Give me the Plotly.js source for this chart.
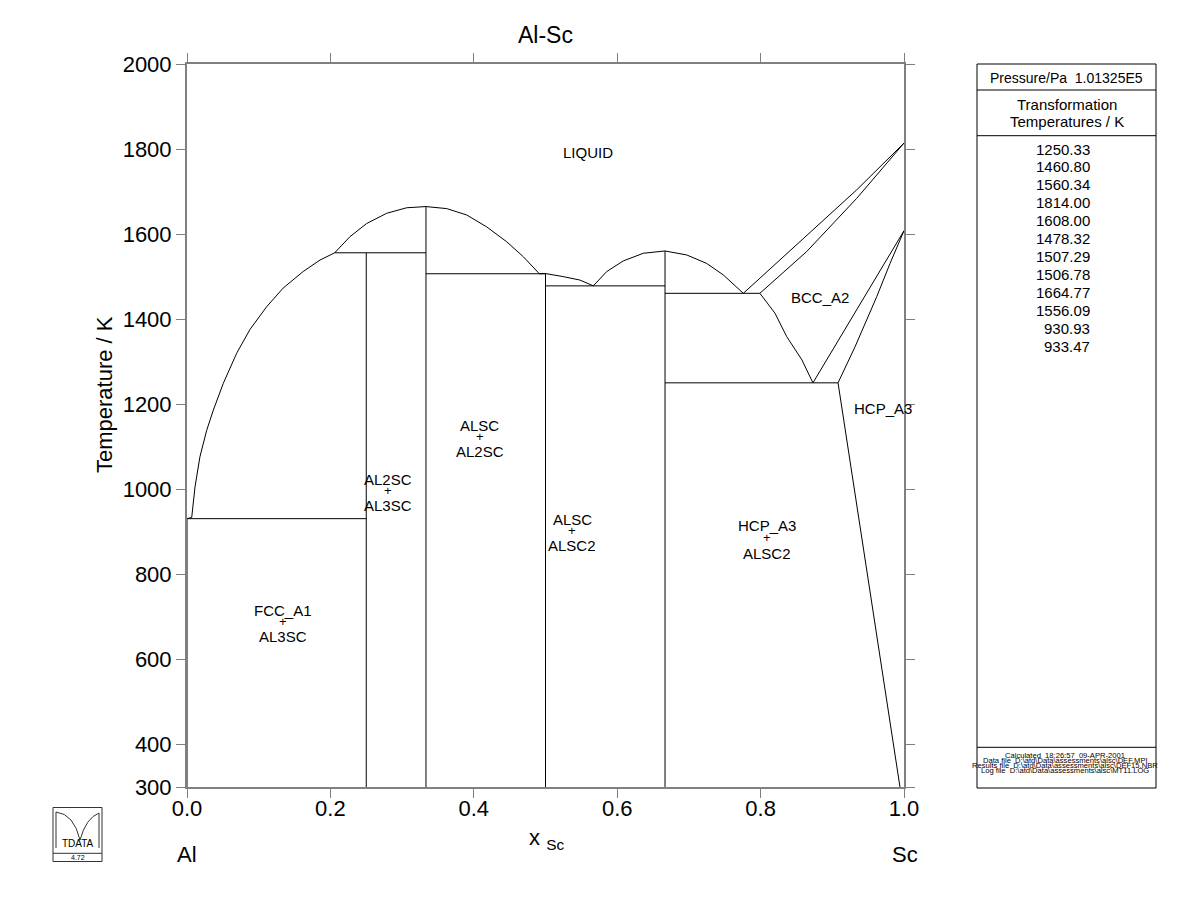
<!DOCTYPE html>
<html>
<head>
<meta charset="utf-8">
<script src="https://cdn.plot.ly/plotly-3.0.1.min.js"></script>
<style>html,body{margin:0;padding:0;background:#fff;}#plot{width:1200px;height:923px;}</style>
</head>
<body>
<div id="plot"></div>
<script>
// ---------------- data ----------------
const tMin = 300;
// Al-rich liquidus (FCC/AL3SC side)
const liqAlX = [0.0008, 0.0066, 0.0112, 0.0181, 0.0275, 0.0367, 0.0506, 0.0693, 0.0879, 0.111, 0.134, 0.162, 0.1855, 0.206];
const liqAlT = [930.93, 934, 1006, 1077, 1139, 1186, 1249, 1320, 1376, 1429, 1473, 1512, 1539, 1556.09];
// FCC solvus / solidus at pure Al
const fccX = [0.0, 0.0003, 0.0008, 0.0];
const fccT = [300, 700, 930.93, 933.47];
// liquidus over AL2SC
const liqAl2ScX = [0.206, 0.2273, 0.2506, 0.2785, 0.3064, 0.3333, 0.3622, 0.3901, 0.418, 0.4459, 0.469, 0.4914];
const liqAl2ScT = [1556.09, 1594, 1625, 1649, 1662, 1664.77, 1660, 1645, 1617, 1582, 1547, 1506.78];
// liquidus over ALSC
const liqAlScX = [0.4914, 0.5, 0.525, 0.548, 0.5667];
const liqAlScT = [1506.78, 1507.29, 1500, 1492, 1478.32];
// liquidus over ALSC2
const liqAlSc2X = [0.5667, 0.5854, 0.6085, 0.6364, 0.6667, 0.697, 0.7249, 0.748, 0.7759];
const liqAlSc2T = [1478.32, 1512, 1537, 1555, 1560.34, 1551, 1531, 1504, 1460.8];
// BCC liquidus and solidus
const liqBccX = [0.7759, 0.8643, 0.934, 1.0];
const liqBccT = [1460.8, 1596, 1704, 1814.0];
const solBccX = [0.799, 0.8643, 0.934, 1.0];
const solBccT = [1460.8, 1559, 1684, 1814.0];
// BCC solvus towards ALSC2
const bccSolvX = [0.799, 0.8201, 0.8364, 0.8577, 0.873];
const bccSolvT = [1460.8, 1414, 1359, 1304, 1250.33];
// BCC / HCP two-phase boundaries
const bccHcpX = [0.873, 1.0];
const bccHcpT = [1250.33, 1608.0];
const hcpBccX = [0.908, 0.9317, 0.962, 0.9805, 1.0];
const hcpBccT = [1250.33, 1335, 1453, 1531, 1608.0];
// HCP solvus
const hcpSolvX = [0.908, 0.9944];
const hcpSolvT = [1250.33, 300];
// stoichiometric compounds (vertical lines)
const compoundX = [0.25, 0.3333, 0.5, 0.6667];
const compoundTop = [1556.09, 1664.77, 1507.29, 1560.34];
// invariant horizontal lines
const invariantT = [930.93, 1556.09, 1506.78, 1478.32, 1460.8, 1250.33];
const invariantX0 = [0.0008, 0.206, 0.3333, 0.5, 0.6667, 0.6667];
const invariantX1 = [0.25, 0.3333, 0.5, 0.6667, 0.799, 0.908];
// transformation temperatures list
const transTemps = ["1250.33","1460.80","1560.34","1814.00","1608.00","1478.32","1507.29","1506.78","1664.77","1556.09","930.93","933.47"];
// axis ticks
const yTickVals = [300, 400, 600, 800, 1000, 1200, 1400, 1600, 1800, 2000];
const xTickVals = [0, 0.2, 0.4, 0.6, 0.8, 1.0];
const xTickText = ["0.0", "0.2", "0.4", "0.6", "0.8", "1.0"];
// region labels: [text lines], x, T of each line
const regionLabels = [
  {lines: ["LIQUID"], x: 0.5593, t: [1793]},
  {lines: ["BCC_A2"], x: 0.8828, t: [1452]},
  {lines: ["HCP_A3"], x: 0.9707, t: [1191]},
  {lines: ["ALSC", "+", "AL2SC"], x: 0.4086, t: [1149, 1123, 1088]},
  {lines: ["AL2SC", "+", "AL3SC"], x: 0.2803, t: [1024, 998, 963]},
  {lines: ["ALSC", "+", "ALSC2"], x: 0.537, t: [930, 902, 867]},
  {lines: ["HCP_A3", "+", "ALSC2"], x: 0.8089, t: [916, 885.5, 850]},
  {lines: ["FCC_A1", "+", "AL3SC"], x: 0.1339, t: [716, 689, 653]}
];
const footerLines = [
  "Calculated\u00a0\u00a018:26:57\u00a0\u00a009-APR-2001",
  "Data file\u00a0\u00a0D:\\atd\\Data\\assessments\\alsc\\DEF.MPI",
  "Results file\u00a0\u00a0D:\\atd\\Data\\assessments\\alsc\\DEF15.NBR",
  "Log file\u00a0\u00a0D:\\atd\\Data\\assessments\\alsc\\MT11.LOG"
];

// ---------------- layout helpers ----------------
const W = 1200, H = 923;
const L = 187, R = 904, T = 64, B = 787;
const px = v => (v - L) / (R - L);
const py = v => (B - v) / (B - T);
const FONT = "Liberation Sans, Arial, Helvetica, sans-serif";

const lineStyle = {color: "#000", width: 1};
function curve(x, y) {
  return {x: x, y: y, type: "scatter", mode: "lines", line: lineStyle, hoverinfo: "skip", showlegend: false, cliponaxis: false};
}
const traces = [
  curve(liqAlX, liqAlT), curve(fccX, fccT), curve(liqAl2ScX, liqAl2ScT),
  curve(liqAlScX, liqAlScT), curve(liqAlSc2X, liqAlSc2T), curve(liqBccX, liqBccT),
  curve(solBccX, solBccT), curve(bccSolvX, bccSolvT), curve(bccHcpX, bccHcpT),
  curve(hcpBccX, hcpBccT), curve(hcpSolvX, hcpSolvT)
];
{
  const vx = [], vy = [];
  compoundX.forEach((c, i) => { vx.push(c, c, null); vy.push(tMin, compoundTop[i], null); });
  traces.push(curve(vx, vy));
}
{
  const hx = [], hy = [];
  invariantT.forEach((t, i) => { hx.push(invariantX0[i], invariantX1[i], null); hy.push(t, t, null); });
  traces.push(curve(hx, hy));
}

const annotations = [];
const shapes = [];
function note(x, y, text, size, extra) {
  const a = {x: x, y: y, xref: "paper", yref: "paper", text: text, showarrow: false,
    xanchor: "center", yanchor: "middle", font: {family: FONT, size: size, color: "#000"}};
  return Object.assign(a, extra || {});
}
regionLabels.forEach(r => {
  r.lines.forEach((s, i) => {
    annotations.push({x: r.x, y: r.t[i], xref: "x", yref: "y", text: s, showarrow: false,
      font: {family: FONT, size: s === "+" ? 13 : 15, color: "#000"}, xanchor: "center", yanchor: "middle"});
  });
});
annotations.push(note(0.5, py(35), "Al-Sc", 23));
annotations.push(note(px(104), py(395), "Temperature / K", 22, {textangle: -90}));
annotations.push(note(px(546), py(839), "x <sub>Sc</sub>", 22));
annotations.push(note(px(187), py(854), "Al", 22));
annotations.push(note(px(905), py(854), "Sc", 22));

// right info panel
const pL = 977, pR = 1156, pT = 64, pB = 788;
shapes.push({type: "rect", xref: "paper", yref: "paper", x0: px(pL), x1: px(pR), y0: py(pT), y1: py(pB), line: {color: "#000", width: 1}});
[90, 135.7, 747.3].forEach(yy => shapes.push({type: "line", xref: "paper", yref: "paper", x0: px(pL), x1: px(pR), y0: py(yy), y1: py(yy), line: {color: "#000", width: 1}}));
const pC = (pL + pR) / 2;
annotations.push(note(px(pC), py(78.3), "Pressure/Pa\u00a0\u00a01.01325E5", 14));
annotations.push(note(px(pC), py(104.3), "Transformation", 15));
annotations.push(note(px(pC), py(121.7), "Temperatures / K", 15));
transTemps.forEach((s, i) => {
  annotations.push(note(px(1092), py(149 + i * 17.97), s, 15, {xanchor: "right"}));
});
footerLines.forEach((s, i) => {
  annotations.push(note(px(1065), py(755.7 + i * 5), s, 7.6));
});

// logo
const lgL = 53, lgR = 102, lgT = 807.5, lgB = 861.5, lgMid = 853.3;
shapes.push({type: "rect", xref: "paper", yref: "paper", x0: px(lgL), x1: px(lgR), y0: py(lgT), y1: py(lgB), line: {color: "#333", width: 1}});
shapes.push({type: "line", xref: "paper", yref: "paper", x0: px(lgL), x1: px(lgR), y0: py(lgMid), y1: py(lgMid), line: {color: "#333", width: 1}});
function lp(x, y) { return px(x) + "," + py(y); }
shapes.push({type: "path", xref: "paper", yref: "paper",
  path: "M " + lp(56, 848) + " L " + lp(56, 812) + " Q " + lp(74, 814) + " " + lp(80, 840) +
        " Q " + lp(86, 818) + " " + lp(99, 813) + " L " + lp(99, 848),
  line: {color: "#333", width: 1}});
annotations.push(note(px(78), py(843.5), "TDATA", 10));
annotations.push(note(px(77.5), py(857.5), "4.72", 7));

const axisCommon = {
  showgrid: false, zeroline: false, showline: true, linecolor: "#808080", linewidth: 2,
  ticks: "outside", ticklen: 9, tickcolor: "#808080", tickwidth: 1, mirror: "ticks",
  tickfont: {family: FONT, size: 22, color: "#000"}
};
const layout = {
  width: W, height: H,
  margin: {l: L, r: W - R, t: T, b: H - B, pad: 0},
  paper_bgcolor: "#fff", plot_bgcolor: "#fff",
  font: {family: FONT, color: "#000"},
  showlegend: false,
  xaxis: Object.assign({}, axisCommon, {range: [0, 1], tickmode: "array", tickvals: xTickVals, ticktext: xTickText, ticklabelstandoff: -8}),
  yaxis: Object.assign({}, axisCommon, {range: [tMin, 2000], tickmode: "array", tickvals: yTickVals}),
  annotations: annotations,
  shapes: shapes
};
Plotly.newPlot("plot", traces, layout, {staticPlot: true, displayModeBar: false});
</script>
</body>
</html>
